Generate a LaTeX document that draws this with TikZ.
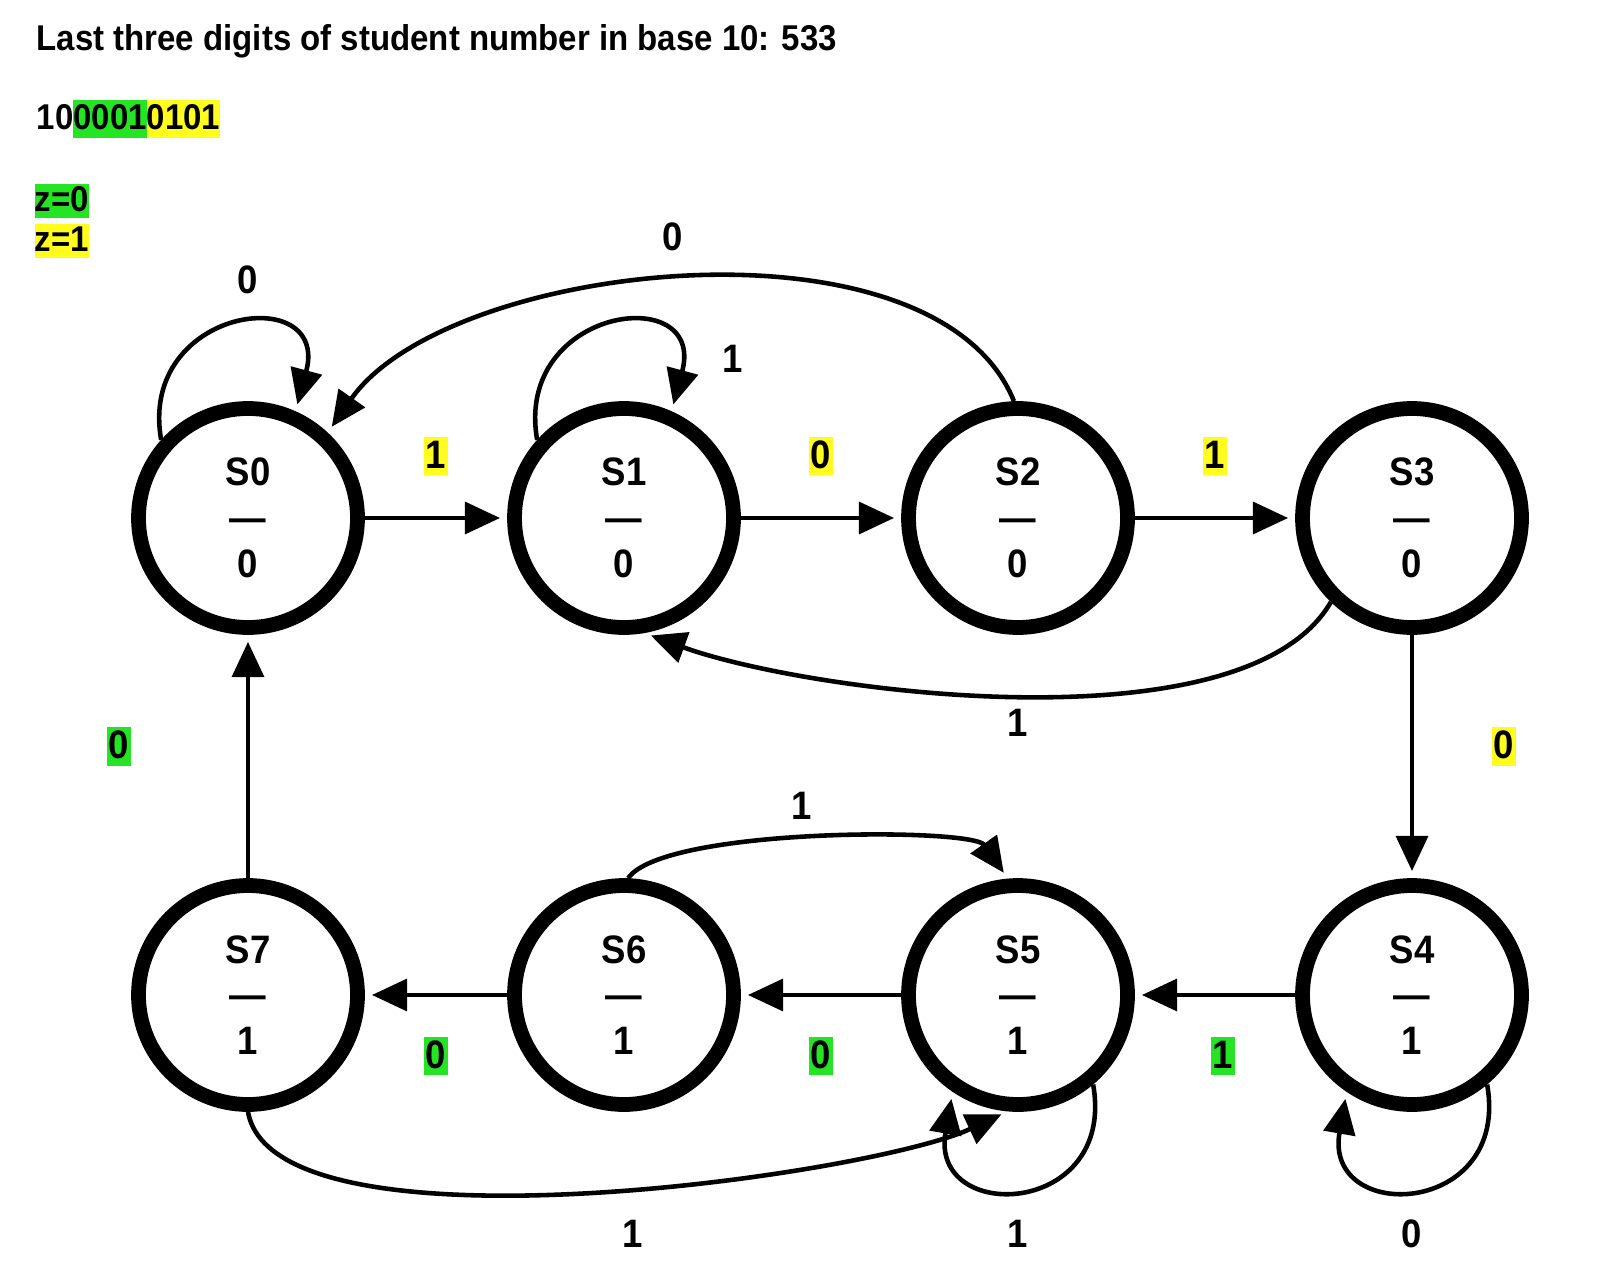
\documentclass[tikz,border=0pt]{standalone}
\usepackage{fontspec}
\setmainfont{Liberation Sans}[FakeStretch=0.92]
\usepackage[usenames,dvipsnames]{xcolor}
\usetikzlibrary{calc,arrows.meta}

\definecolor{hlgreen}{RGB}{36,228,36}
\definecolor{hlyellow}{RGB}{255,252,30}
\newcommand{\hlbox}[2]{{\setlength{\fboxsep}{0pt}\colorbox{#1}{\rule[-2.4pt]{0pt}{10.6pt}#2}}}

\begin{document}
\begin{tikzpicture}[
  state/.style={circle,draw,line width=4.2pt,minimum size=2.19cm,inner sep=0pt,align=center,
    font=\fontsize{11.3}{13}\selectfont\bfseries},
  edge/.style={line width=1.3pt,-{Triangle[length=10pt,width=9pt]},shorten >=2pt},
  lbl/.style={font=\fontsize{11.3}{13}\selectfont\bfseries,inner xsep=0.4pt,inner ysep=0pt,
    text height=9pt,text depth=2pt},
  lbly/.style={lbl,fill=hlyellow},
  lblg/.style={lbl,fill=hlgreen},
  head/.style={anchor=west,inner sep=0pt,font=\fontsize{10.2}{12}\selectfont\bfseries}
]

\path[use as bounding box,fill=white] (0,0) rectangle (16,12.84);

\node[head] (title) at (0.36,12.43) {Last three digits of student number in base 10: 533};
\node[head] (bits) at (0.36,11.65) {10\hlbox{hlgreen}{0001}\hlbox{hlyellow}{0101}};
\node[head,fill=hlgreen,text height=7.9pt,text depth=1.7pt] (z0) at (0.34,10.83) {z=0};
\node[head,fill=hlyellow,text height=7.9pt,text depth=1.7pt] (z1) at (0.34,10.43) {z=1};

\node[state] (S0) at (2.48,7.66) {S0\\\textemdash\\0};
\node[state] (S1) at (6.24,7.66) {S1\\\textemdash\\0};
\node[state] (S2) at (10.18,7.66) {S2\\\textemdash\\0};
\node[state] (S3) at (14.12,7.66) {S3\\\textemdash\\0};
\node[state] (S7) at (2.48,2.89) {S7\\\textemdash\\1};
\node[state] (S6) at (6.24,2.89) {S6\\\textemdash\\1};
\node[state] (S5) at (10.18,2.89) {S5\\\textemdash\\1};
\node[state] (S4) at (14.12,2.89) {S4\\\textemdash\\1};

\draw[edge] (S0) -- node[lbly,yshift=0.62cm] (e01) {1} (S1);
\draw[edge] (S1) -- node[lbly,yshift=0.62cm] (e12) {0} (S2);
\draw[edge] (S2) -- node[lbly,yshift=0.62cm] (e23) {1} (S3);
\draw[edge] (S3) -- node[lbly,xshift=0.92cm,yshift=0.1cm] (e34) {0} (S4);
\draw[edge] (S4) -- node[lblg,xshift=0.08cm,yshift=-0.61cm] (e45) {1} (S5);
\draw[edge] (S5) -- node[lblg,yshift=-0.61cm] (e56) {0} (S6);
\draw[edge] (S6) -- node[lblg,yshift=-0.61cm] (e67) {0} (S7);
\draw[edge] (S7) -- node[lblg,xshift=-1.29cm,yshift=0.1cm] (e70) {0} (S0);

\draw[edge] (S0.138) to[out=100,in=75,distance=1.35cm] (S0.66);
\draw[edge] (S1.138) to[out=100,in=75,distance=1.35cm] (S1.66);
\draw[edge] (S2.92) to[out=112,in=55,looseness=0.78] (S0.47);
\draw[edge] (S3.226) to[out=240,in=-20,looseness=0.64] (S1.280);
\draw[edge] (S6.88) to[out=55,in=125,looseness=0.42] (S5.95);
\draw[edge] (S7.270) to[out=-80,in=205,looseness=0.51] (S5.265);
\draw[edge] (S5.310) to[out=-80,in=-100,distance=1.35cm] (S5.236);
\draw[edge] (S4.310) to[out=-80,in=-100,distance=1.35cm] (S4.236);

\node[lbl] (l00) at (2.48,10.03) {0};
\node[lbl] (l11) at (7.33,9.24) {1};
\node[lbl] (l20) at (6.73,10.46) {0};
\node[lbl] (l31) at (10.18,5.60) {1};
\node[lbl] (l65) at (8.02,4.77) {1};
\node[lbl] (l75) at (6.33,0.49) {1};
\node[lbl] (l55) at (10.18,0.49) {1};
\node[lbl] (l44) at (14.12,0.49) {0};

\end{tikzpicture}
\end{document}
